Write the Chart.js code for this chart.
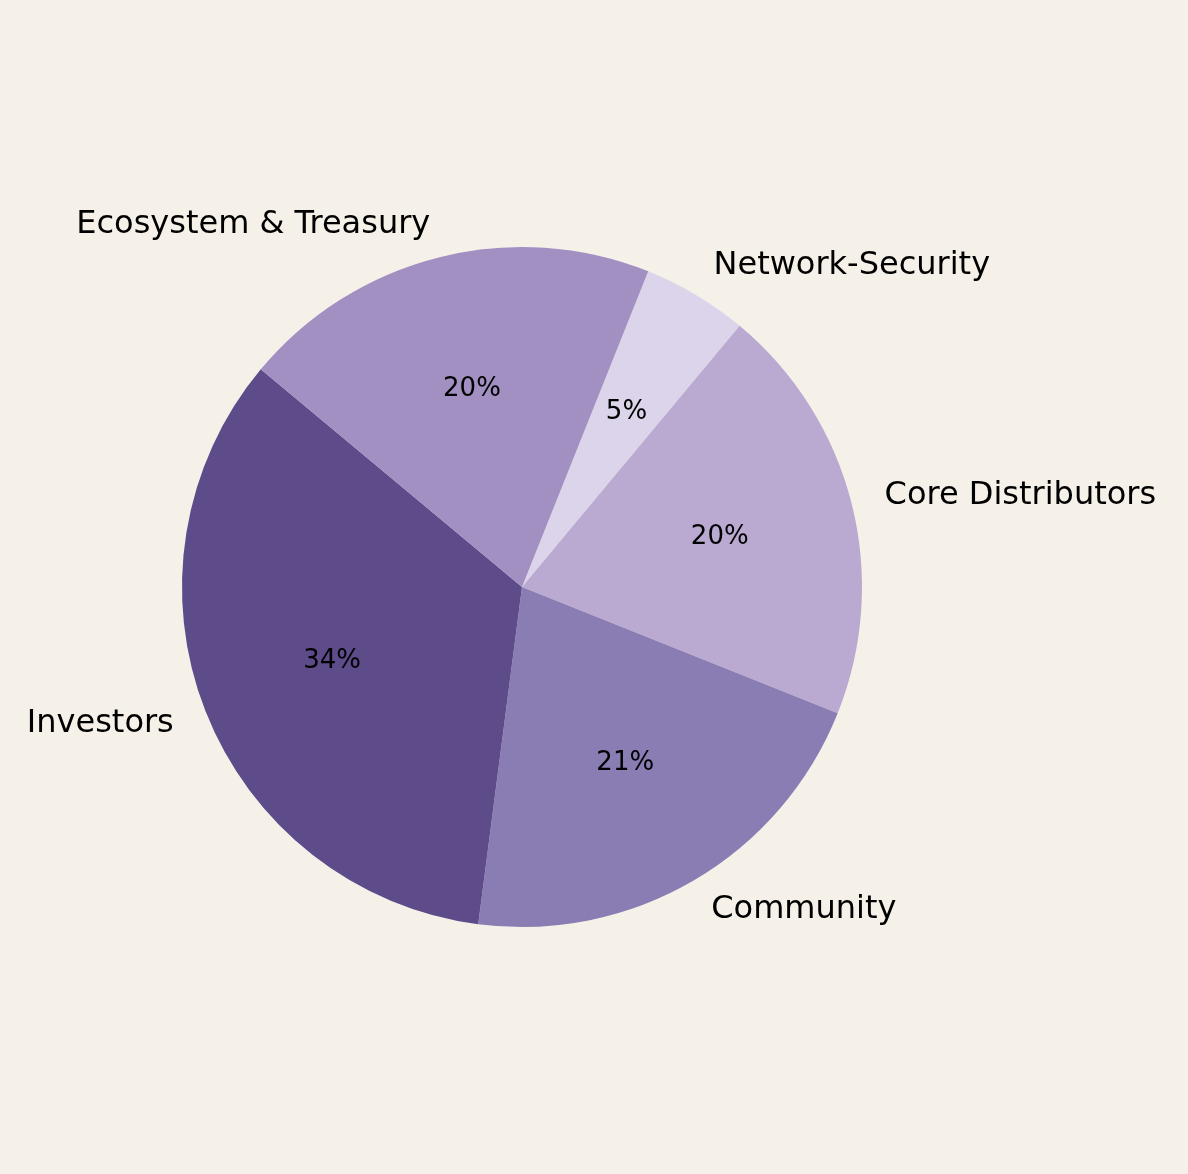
<!DOCTYPE html>
<html><head><meta charset="utf-8">
<script src="https://cdn.jsdelivr.net/npm/chart.js@4/dist/chart.umd.min.js"></script>
<style>html,body{margin:0;padding:0;background:#f5f1e9;}#wrap{width:1188px;height:1174px;}</style>
</head><body><div id="wrap"><canvas id="c" width="1188" height="1174"></canvas></div>
<script>
const categories = ["Network-Security","Core Distributors","Community","Investors","Ecosystem & Treasury"];
const values = [5,20,21,34,20];
const colors = ["#dcd4ea","#baaad1","#8a7db3","#5e4b8a","#a390c3"];

const labelPlugin = {
  id:'pieLabels',
  afterDatasetsDraw(chart){
    const ctx = chart.ctx;
    const meta = chart.getDatasetMeta(0);
    const total = values.reduce((a,b)=>a+b,0);
    meta.data.forEach((arc,i)=>{
      const mid = (arc.startAngle+arc.endAngle)/2;
      const r = arc.outerRadius, cx = arc.x, cy = arc.y;
      ctx.save();
      ctx.fillStyle = '#000';
      ctx.textBaseline = 'middle';
      ctx.font = '26px "DejaVu Sans"';
      ctx.textAlign = 'center';
      ctx.fillText(Math.round(values[i]/total*100)+'%', cx+Math.cos(mid)*r*0.6, cy+Math.sin(mid)*r*0.6);
      ctx.font = '32px "DejaVu Sans"';
      const lx = cx+Math.cos(mid)*r*1.1, ly = cy+Math.sin(mid)*r*1.1;
      ctx.textAlign = Math.cos(mid) >= 0 ? 'left' : 'right';
      ctx.fillText(categories[i], lx, ly);
      ctx.restore();
    });
  }
};

new Chart(document.getElementById('c'), {
  type:'pie',
  data:{labels:categories,datasets:[{data:values,backgroundColor:colors,borderWidth:0}]},
  options:{
    responsive:false, animation:false, rotation:21.8,
    layout:{padding:{left:182,right:326,top:247,bottom:247}},
    plugins:{legend:{display:false},tooltip:{enabled:false}}
  },
  plugins:[labelPlugin]
});
</script></body></html>
